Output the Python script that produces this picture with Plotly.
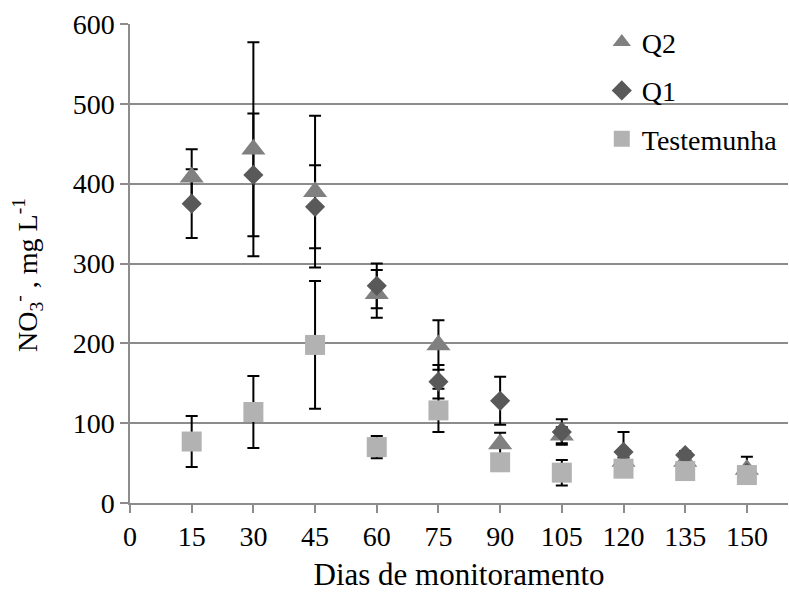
import plotly.graph_objects as go

days = [15, 30, 45, 60, 75, 90, 105, 120, 135, 150]

q2 = [408, 443, 390, 262, 198, 74, 85, 52, 52, 42]
q2_err = [35, 134, 95, 30, 31, 14, 10, 5, 5, 16]

q1 = [375, 411, 371, 272, 152, 128, 89, 64, 60, 38]
q1_err = [43, 77, 52, 28, 21, 30, 16, 25, 5, 5]

test = [77, 114, 198, 70, 116, 51, 38, 43, 40, 35]
test_err = [32, 45, 80, 14, 27, 5, 16, 5, 5, 5]

x_ticks = [0, 15, 30, 45, 60, 75, 90, 105, 120, 135, 150]
y_ticks = [0, 100, 200, 300, 400, 500, 600]

series = [
    ("Q2", q2, q2_err, "triangle-up", "#808080", 21),
    ("Q1", q1, q1_err, "diamond", "#595959", 15.5),
    ("Testemunha", test, test_err, "square", "#b2b2b2", 20),
]

FONT = "'Times New Roman', 'Liberation Serif', 'DejaVu Serif', serif"

fig = go.Figure()

# error bars first (under all markers)
for name, vals, errs, sym, col, sz in series:
    fig.add_trace(go.Scatter(
        x=days, y=vals, mode="markers",
        marker=dict(size=sz, color="rgba(0,0,0,0)"),
        error_y=dict(type="data", array=errs, visible=True,
                     color="black", thickness=2, width=6),
        showlegend=False, hoverinfo="skip",
    ))

for name, vals, errs, sym, col, sz in series:
    fig.add_trace(go.Scatter(
        x=days, y=vals, mode="markers", name=name,
        legendgroup=name,
        marker=dict(symbol=sym, size=sz, color=col, line=dict(width=0)),
    ))

fig.add_annotation(
    text="NO<sub>3</sub><sup>-</sup> , mg L<sup>-1</sup>",
    xref="paper", yref="paper", x=-0.155, y=0.476,
    xanchor="center", yanchor="middle", textangle=-90,
    showarrow=False, font=dict(family=FONT, size=28, color="black"),
)

fig.update_layout(
    width=789, height=597,
    margin=dict(l=130, r=1, t=24, b=94),
    paper_bgcolor="white", plot_bgcolor="white",
    font=dict(family=FONT, size=28, color="black"),
    showlegend=True,
    legend=dict(
        x=0.717, y=1.014, xanchor="left", yanchor="top",
        bgcolor="rgba(0,0,0,0)", borderwidth=0,
        font=dict(family=FONT, size=28, color="black"),
        traceorder="grouped", tracegroupgap=9,
        itemsizing="trace",
    ),
    xaxis=dict(
        range=[0, 160], tickmode="array", tickvals=x_ticks,
        ticktext=[str(v) for v in x_ticks],
        showgrid=False, zeroline=False,
        showline=True, linecolor="#8c8c8c", linewidth=1.5,
        ticks="outside", ticklen=8, tickcolor="#8c8c8c", tickwidth=1.5,
        tickfont=dict(family=FONT, size=28),
        title=dict(text="Dias de monitoramento",
                   font=dict(family=FONT, size=31), standoff=12),
    ),
    yaxis=dict(
        range=[0, 600], tickmode="array", tickvals=y_ticks,
        ticktext=[str(v) for v in y_ticks],
        showgrid=True, gridcolor="#8c8c8c", gridwidth=1.5,
        zeroline=False,
        showline=True, linecolor="#8c8c8c", linewidth=1.5,
        ticks="outside", ticklen=8, tickcolor="#8c8c8c", tickwidth=1.5,
        tickfont=dict(family=FONT, size=28),
    ),
)

fig.write_html("out.html")
